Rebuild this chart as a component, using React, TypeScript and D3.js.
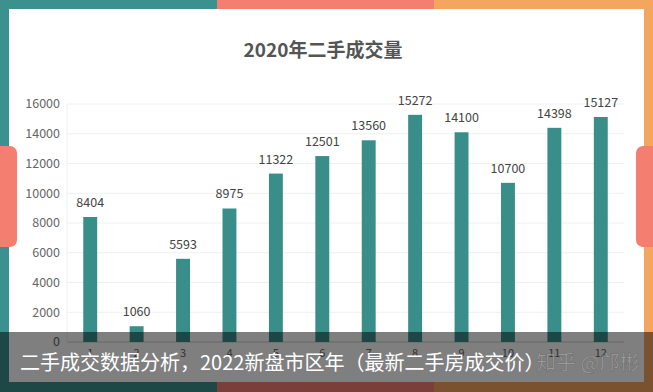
import React from 'react';
import * as d3 from 'd3';

// 2020 monthly second-hand transaction volume
const months = ['1', '2', '3', '4', '5', '6', '7', '8', '9', '10', '11', '12'];
const volumes = [8404, 1060, 5593, 8975, 11322, 12501, 13560, 15272, 14100, 10700, 14398, 15127];
const yTicks = [0, 2000, 4000, 6000, 8000, 10000, 12000, 14000, 16000];

const W = 653;
const H = 392;
const FONT = '"Noto Sans CJK SC", "Noto Sans", sans-serif';
const margin = { top: 104, right: 29, bottom: 50, left: 67 };

const TEAL = '#3a918d';
const SALMON = '#f47f70';
const ORANGE = '#f4a55e';
const BAR = '#3a8e8a';

export default function App() {
  const x = d3.scaleBand<string>()
    .domain(months)
    .range([margin.left, W - margin.right])
    .padding(0);
  const y = d3.scaleLinear()
    .domain([0, 16000])
    .range([H - margin.bottom, margin.top]);
  const barW = x.bandwidth() * 0.3;

  return (
    <div style={{ position: 'absolute', left: 0, top: 0 }}>
      <svg width={W} height={H} style={{ display: 'block', fontFamily: FONT }}>
        <rect x={0} y={0} width={W} height={H} fill="#fff" />

        {/* frame */}
        <rect x={0} y={0} width={217} height={9} fill={TEAL} />
        <rect x={217} y={0} width={217} height={9} fill={SALMON} />
        <rect x={434} y={0} width={219} height={9} fill={ORANGE} />
        <rect x={0} y={0} width={9} height={H} fill={TEAL} />
        <rect x={644} y={0} width={9} height={H} fill={ORANGE} />
        <rect x={0} y={382} width={217} height={10} fill={TEAL} />
        <rect x={217} y={382} width={217} height={10} fill={SALMON} />
        <rect x={434} y={382} width={219} height={10} fill={ORANGE} />
        <rect x={-10} y={146} width={27} height={101} rx={7} fill={SALMON} />
        <rect x={636} y={146} width={27} height={101} rx={7} fill={SALMON} />

        {/* title */}
        <text x={323} y={57} textAnchor="middle" fontSize={19} fontWeight="bold" fill="#555">
          2020年二手成交量
        </text>

        {/* grid + y axis */}
        {yTicks.map(t => (
          <g key={t}>
            <line x1={margin.left} x2={W - margin.right} y1={y(t)} y2={y(t)}
              stroke={t === 0 ? '#ccc' : '#eef0f0'} strokeWidth={1} />
            <text x={60} y={y(t)} dy="0.35em" textAnchor="end" fontSize={12.5} fill="#666">
              {t}
            </text>
          </g>
        ))}
        <line x1={margin.left} x2={margin.left} y1={margin.top} y2={y(0)} stroke="#eef0f0" />

        {/* bars */}
        {months.map((m, i) => {
          const cx = (x(m) as number) + x.bandwidth() / 2;
          const v = volumes[i];
          return (
            <g key={m}>
              <rect x={cx - barW / 2} y={y(v)} width={barW} height={y(0) - y(v)} fill={BAR} />
              <text x={cx} y={y(v) - 10} textAnchor="middle" fontSize={12.5} fill="#444">{v}</text>
              <text x={cx} y={y(0) + 11} dy="0.35em" textAnchor="middle" fontSize={11} fill="#666">{m}</text>
            </g>
          );
        })}

        {/* caption overlay */}
        <rect x={0} y={332} width={W} height={60} fill="rgba(0,0,0,0.5)" />
        <text x={20} y={370} fontSize={20} fill="#fff">
          二手成交数据分析，2022新盘市区年（最新二手房成交价）
        </text>
        <text x={536} y={370} fontSize={20} fill="rgba(185,185,185,0.6)"
          stroke="rgba(80,80,80,0.45)" strokeWidth={0.7}>
          知乎 @邝彬
        </text>
      </svg>
    </div>
  );
}
